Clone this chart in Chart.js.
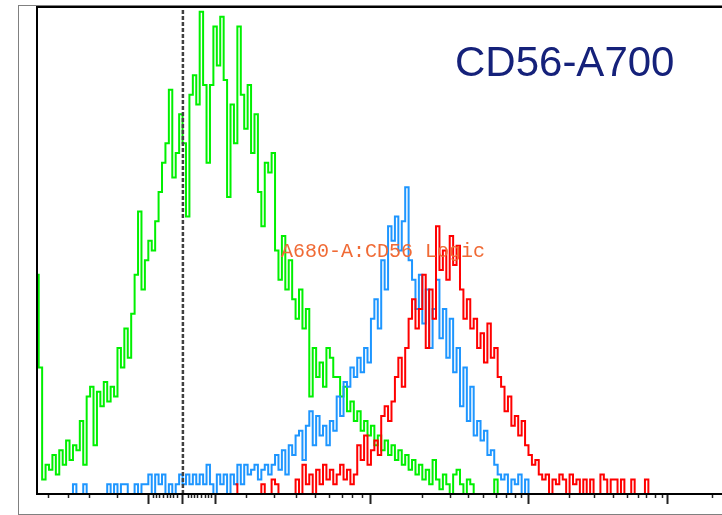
<!DOCTYPE html>
<html><head><meta charset="utf-8">
<script src="https://cdn.jsdelivr.net/npm/chart.js@4/dist/chart.umd.min.js"></script>
<style>
html,body{margin:0;padding:0;background:#fff;overflow:hidden;}
#wrap{position:relative;width:722px;height:515px;overflow:hidden;}
#frame{position:absolute;left:18px;top:5px;width:760px;height:508px;border:1px solid #808080;}
canvas{position:absolute;left:0;top:0;}
.t1{position:absolute;left:455px;top:41px;font-family:"Liberation Sans",Arial,sans-serif;font-size:42px;line-height:42px;color:#15217a;white-space:nowrap;}
.t2{position:absolute;left:281px;top:242px;font-family:"Liberation Mono","Courier New",monospace;font-size:20px;line-height:20px;color:#f06a35;white-space:nowrap;}
</style></head>
<body><div id="wrap"><div id="frame"></div><canvas id="c" width="722" height="515"></canvas><div class="t1">CD56-A700</div><div class="t2">A680-A:CD56 Logic</div></div>
<script>
// histogram channels (x axis 0..200), counts per channel
const greenStart = 0;
const greenCounts = [45,26,3,6,5,8,4,9,6,11,
  7,10,9,15,6,20,22,10,21,18,
  23,19,22,20,30,26,34,28,37,45,
  58,42,48,52,50,56,62,68,72,83,
  65,70,78,72,57,82,86,80,99,84,
  68,84,96,88,98,85,61,80,72,96,
  82,75,84,70,78,62,55,68,66,70,
  50,44,53,42,48,40,36,42,34,38,
  20,30,24,27,22,30,28,24,24,20,
  22,17,19,15,17,13,15,12,14,10,
  12,9,11,8,10,7,9,6,8,5,
  7,4,6,3,5,2,7,3,1,4,
  2,0,4,5,2,0,3,2,0,0,
  0,0,0,0,3,0];
const blueStart = 10;
const blueCounts = [0,2,0,0,2,0,0,0,0,0,
  0,2,0,2,0,2,2,0,0,2,
  0,2,2,4,0,4,2,4,0,2,
  0,2,4,2,4,2,4,2,4,2,
  6,2,0,4,2,4,0,4,2,6,
  2,6,4,5,6,3,5,6,4,6,
  8,5,9,4,10,8,12,13,7,14,
  17,10,16,12,14,10,15,13,20,16,
  23,22,26,24,28,25,30,27,36,40,
  34,48,42,55,52,57,50,56,63,48,
  44,38,45,35,42,30,38,44,32,38,
  28,36,25,30,18,26,15,22,12,15,
  11,13,8,9,6,4,3,4,0,3,
  2,4,0,3,0,0];
const redStart = 58;
const redCounts = [2,0,
  0,0,0,0,0,0,2,0,0,3,
  2,0,0,0,0,0,3,0,6,2,
  4,0,5,2,6,3,5,2,4,6,
  3,5,2,4,10,7,12,6,9,11,
  8,16,18,15,19,24,28,22,30,36,
  40,34,38,45,30,42,36,55,46,50,
  44,53,47,51,42,36,40,34,36,30,
  33,27,35,28,30,24,22,17,20,14,
  16,12,15,10,8,6,7,4,3,4,
  0,3,2,4,3,0,4,2,3,0,
  3,0,3,0,0,4,3,0,3,3,
  0,3,0,0,3,0,0,0,3,0];
const zeroChannel = 42.6;
const majorTicks = [32.7, 42.6, 52.0, 97.5, 143.4, 184.2];
const minorTicks = [3.5, 9.1, 15.2, 23.4,
  34.0, 35.0, 35.9, 36.9, 38.0, 38.9, 39.9, 40.9,
  44.1, 45.1, 46.0, 47.0, 48.0, 49.1, 50.0, 51.0,
  61.3, 69.2, 75.9, 81.2, 85.5, 89.1, 92.0, 94.9,
  112.7, 120.6, 126.1, 130.5, 134.3, 137.2, 139.6, 141.6,
  155.6, 162.9, 168.2, 172.3, 175.5, 178.1, 180.7, 182.5, 197.1];

function series(start, counts){ return counts.map((v,i)=>({x:start+i, y:v})); }
const allTicks = majorTicks.concat(minorTicks).sort((a,b)=>a-b);
const isMajor = v => majorTicks.includes(v);

const lineDs = (data, color, order) => ({
  data, borderColor: color, borderWidth: 2, pointRadius: 0, stepped: 'middle', fill: false, order
});

new Chart(document.getElementById('c'), {
  type: 'line',
  data: {
    datasets: [
      {data:[{x:zeroChannel,y:0},{x:zeroChannel,y:100}], borderColor:'#404040', borderWidth:2.5, borderDash:[4,2], pointRadius:0, order:0},
      lineDs(series(redStart, redCounts), '#ff0000', 1),
      lineDs(series(blueStart, blueCounts), '#1e96ff', 2),
      lineDs([{x:greenStart,y:0}].concat(series(greenStart, greenCounts)), '#00f000', 3)
    ]
  },
  options: {
    responsive: false,
    animation: false,
    events: [],
    devicePixelRatio: 1,
    layout: {padding: {left: 37, top: 7, right: 0, bottom: 11}},
    plugins: {legend: {display: false}, tooltip: {enabled: false}, title: {display: false}},
    scales: {
      x: {
        type: 'linear', position: 'bottom', min: 0, max: 200,
        afterBuildTicks: s => { s.ticks = allTicks.map(v => ({value: v})); },
        ticks: {display: false},
        grid: {
          display: true, drawOnChartArea: false, drawTicks: true, tickLength: 10,
          tickColor: '#222',
          tickWidth: ctx => (ctx.tick && isMajor(ctx.tick.value)) ? 2 : 1.5,
          tickBorderDash: ctx => (ctx.tick && isMajor(ctx.tick.value)) ? [] : [3, 40]
        },
        border: {display: true, color: '#000', width: 2, z: 1}
      },
      xTop: {
        type: 'linear', axis: 'x', position: 'top', min: 0, max: 200,
        ticks: {display: false}, grid: {display: false, drawTicks: false, tickLength: 0},
        border: {display: true, color: '#000', width: 2, z: 1}
      },
      y: {
        type: 'linear', min: 0, max: 100,
        ticks: {display: false}, grid: {display: false, drawTicks: false, tickLength: 0},
        border: {display: true, color: '#000', width: 2, z: 1}
      }
    }
  }
});
</script>
</body></html>
